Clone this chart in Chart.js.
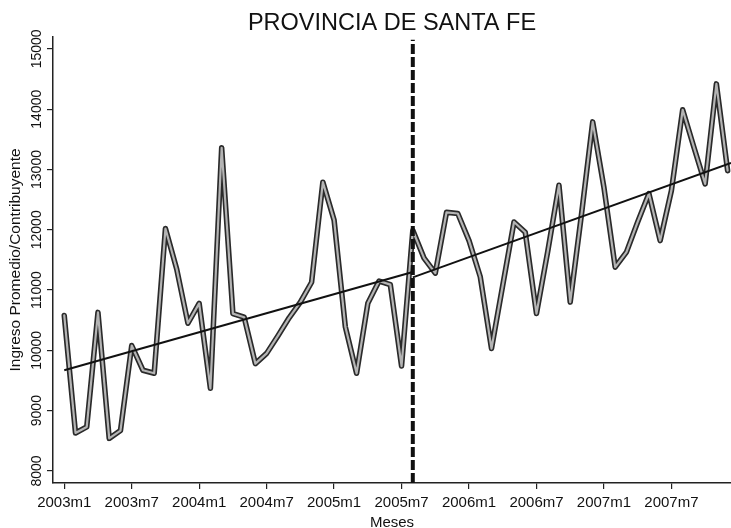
<!DOCTYPE html>
<html>
<head>
<meta charset="utf-8">
<script src="https://cdn.jsdelivr.net/npm/chart.js@4/dist/chart.umd.min.js"></script>
<style>
  body { margin: 0; background: #fff; }
</style>
</head>
<body>
<canvas id="chart" width="731" height="528"></canvas>
<script>
// ingreso promedio por contribuyente, 2003m1 .. 2007m12
const ingreso = [
  10580, 8630, 8730, 10630, 8540, 8670, 10080, 9670, 9620, 12020, 11350, 10450,
  10780, 9370, 13360, 10610, 10550, 9780, 9950, 10240, 10540, 10800, 11130, 12790,
  12160, 10390, 9620, 10780, 11150, 11090, 9740, 11990, 11530, 11280, 12290, 12270,
  11820, 11220, 10030, 11080, 12130, 11960, 10610, 11640, 12740, 10800, 12250, 13790,
  12700, 11380, 11630, 12130, 12600, 11820, 12650, 13990, 13370, 12760, 14420, 12980
];
// tendencia por tramos, antes y despues del corte
const tendAntesX = [0, 31];
const tendAntesY = [9670, 11300];
const tendDespuesX = [31, 59.3];
const tendDespuesY = [11210, 13110];
const corteX = 31;           // 2005m8
const corteY = [7800, 15150];
const xTicks = [0, 6, 12, 18, 24, 30, 36, 42, 48, 54];
const xTickLabels = ['2003m1', '2003m7', '2004m1', '2004m7', '2005m1', '2005m7', '2006m1', '2006m7', '2007m1', '2007m7'];
const yTicks = [8000, 9000, 10000, 11000, 12000, 13000, 14000, 15000];

const FONT = '"Liberation Sans", Arial, sans-serif';
const serie = ingreso.map((v, i) => ({ x: i, y: v }));
const toPts = (xs, ys) => xs.map((x, i) => ({ x: x, y: ys[i] }));

// y labels are written bottom-to-top like in the original
const yLabels = {
  id: 'yLabels',
  afterDraw(chart) {
    const { ctx, scales: { y } } = chart;
    ctx.save();
    ctx.font = '14px ' + FONT;
    ctx.fillStyle = '#111';
    ctx.textAlign = 'center';
    ctx.textBaseline = 'middle';
    yTicks.forEach(v => {
      ctx.save();
      ctx.translate(37, y.getPixelForValue(v));
      ctx.rotate(-Math.PI / 2);
      ctx.fillText(String(v), 0, 0);
      ctx.restore();
    });
    ctx.restore();
  }
};

const trendStyle = { borderColor: '#111', borderWidth: 2, pointRadius: 0, order: 1 };

new Chart(document.getElementById('chart'), {
  type: 'line',
  data: {
    datasets: [
      {
        data: serie,
        borderColor: '#2a2a2a',
        borderWidth: 5.5,
        borderJoinStyle: 'round',
        borderCapStyle: 'round',
        pointRadius: 0,
        tension: 0,
        order: 3
      },
      {
        data: serie,
        borderColor: '#b4b4b4',
        borderWidth: 2.2,
        borderJoinStyle: 'round',
        borderCapStyle: 'round',
        pointRadius: 0,
        tension: 0,
        order: 2
      },
      Object.assign({ data: toPts(tendAntesX, tendAntesY) }, trendStyle),
      Object.assign({ data: toPts(tendDespuesX, tendDespuesY) }, trendStyle),
      {
        data: corteY.map(v => ({ x: corteX, y: v })),
        borderColor: '#111',
        borderWidth: 4,
        borderDash: [10, 3],
        pointRadius: 0,
        order: 0
      }
    ]
  },
  options: {
    responsive: false,
    animation: false,
    devicePixelRatio: 1,
    layout: { padding: 0 },
    plugins: {
      legend: { display: false },
      tooltip: { enabled: false },
      title: {
        display: true,
        fullSize: false,
        text: 'PROVINCIA DE SANTA FE',
        color: '#111',
        font: { family: FONT, size: 23.5, weight: 'normal', lineHeight: 1.1 },
        padding: { top: 11, bottom: 0 }
      }
    },
    scales: {
      x: {
        type: 'linear',
        min: -1,
        max: 59.3,
        afterBuildTicks: s => { s.ticks = xTicks.map(v => ({ value: v })); },
        afterFit: s => { s.height = 45; },
        ticks: {
          padding: 5,
          color: '#111',
          maxRotation: 0,
          font: { family: FONT, size: 15 },
          callback: v => xTickLabels[xTicks.indexOf(v)]
        },
        grid: { drawOnChartArea: false, drawTicks: true, tickLength: 6, color: '#222', lineWidth: 1.2 },
        border: { display: true, color: '#222', width: 1.5 },
        title: {
          display: true,
          text: 'Meses',
          color: '#111',
          font: { family: FONT, size: 15, lineHeight: 1 },
          padding: { top: 0, bottom: -2 }
        }
      },
      y: {
        min: 7800,
        max: 15200,
        afterBuildTicks: s => { s.ticks = yTicks.map(v => ({ value: v })); },
        afterFit: s => { s.width = 53; },
        ticks: { display: false },
        grid: { drawOnChartArea: false, drawTicks: true, tickLength: 6, color: '#222', lineWidth: 1.2 },
        border: { display: true, color: '#222', width: 1.5 },
        title: {
          display: true,
          text: 'Ingreso Promedio/Contribuyente',
          color: '#111',
          font: { family: FONT, size: 15.5, lineHeight: 1 },
          padding: { top: 8, bottom: 0 }
        }
      }
    }
  },
  plugins: [yLabels]
});
</script>
</body>
</html>
